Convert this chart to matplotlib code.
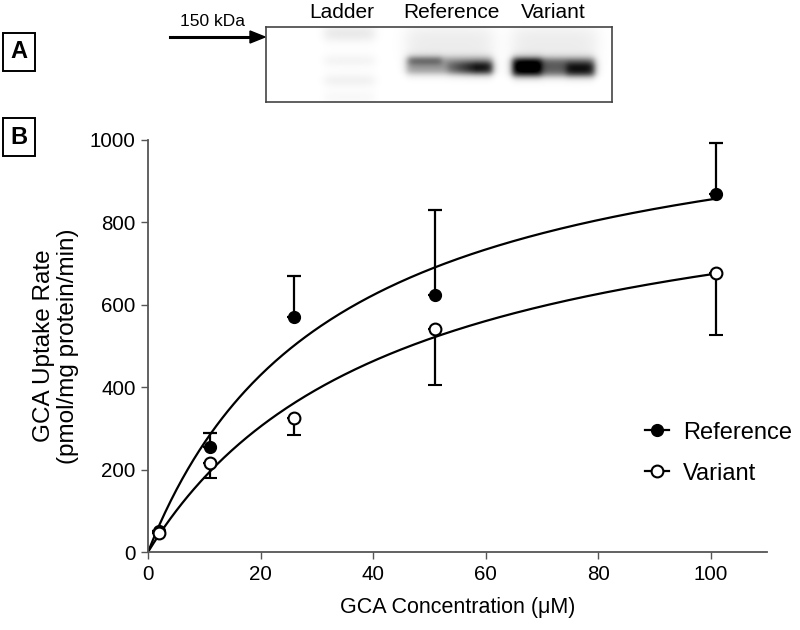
import numpy as np
import matplotlib.pyplot as plt
from matplotlib.lines import Line2D

plt.rcParams['font.family'] = ['Liberation Sans', 'DejaVu Sans']

# uptake data (GCA concentration in uM, rate in pmol/mg protein/min)
conc = [2, 11, 26, 51, 101]
ref_rate = [52, 255, 570, 625, 870]
ref_err = [0, 34, 100, 206, 123]
var_rate = [45, 215, 326, 541, 676]
var_err = [0, 36, 41, 135, 150]

# Michaelis-Menten fit parameters (Vmax, Km)
ref_fit = (1138, 33.0)
var_fit = (967, 43.5)

lane_labels = ['Ladder', 'Reference', 'Variant']

fig = plt.figure(figsize=(8, 6.3), dpi=100, facecolor='w')

# ---- panel A: blot ----
axA = fig.add_axes([266/800, 1-102/630, 346/800, 75/630])
W, H = 346, 75
xx, yy = np.meshgrid(np.arange(W), np.arange(H))

def band(x0, x1, y0, y1, s=2.5):
    fx = 1/(1+np.exp(-(xx-x0)/s)) * 1/(1+np.exp((xx-x1)/s))
    fy = 1/(1+np.exp(-(yy-y0)/s)) * 1/(1+np.exp((yy-y1)/s))
    return fx*fy

img = np.zeros((H, W))
# ladder bands
for yc, a in [(3, 0.10), (9, 0.09), (33, 0.08), (53, 0.10), (70, 0.05)]:
    img += a*band(58, 108, yc-3, yc+3, 3)
# reference lane
img += 0.08*band(140, 226, 0, 32, 5)
img += 0.40*band(140, 226, 30, 46, 2.2)
img += 0.6*band(180, 226, 35, 46, 2)*np.clip((xx-170)/40, 0, 1)
img += 0.30*band(142, 175, 30, 36, 1.8)
# variant lane
img += 0.08*band(246, 330, 0, 32, 5)
img += 0.65*band(246, 328, 31, 48, 2.2)
img += 0.5*band(246, 275, 31, 48, 2)
img += 0.35*band(300, 328, 36, 48, 2)
img = np.clip(img, 0, 1)
axA.imshow(img, cmap='gray_r', vmin=0, vmax=1, aspect='auto',
           extent=(0, W, H, 0), interpolation='bilinear')
axA.set_xlim(0, W)
axA.set_ylim(H, 0)
axA.set_xticks([])
axA.set_yticks([])
for sp in axA.spines.values():
    sp.set_color('#444444')
    sp.set_linewidth(1.2)

for lab, xc in zip(lane_labels, [342, 451, 553]):
    fig.text(xc/800, 1-12/630, lab, ha='center', va='center', fontsize=15)
fig.text(212/800, 1-22/630, '150 kDa', ha='center', va='center', fontsize=12.5)
fig.add_artist(Line2D([170/800, 252/800], [1-37/630, 1-37/630],
                      color='black', lw=2.2))
fig.patches.append(plt.Polygon([[250/800, 1-31/630], [265/800, 1-37/630],
                                [250/800, 1-43/630]], closed=True,
                               color='black', transform=fig.transFigure))

for lab, yc in [('A', 52), ('B', 137)]:
    fig.text(19/800, 1-yc/630, lab, ha='center', va='center', fontsize=17,
             fontweight='bold',
             bbox=dict(boxstyle='square,pad=0.3', fc='w', ec='black', lw=1.4))

# ---- panel B: kinetics ----
ax = fig.add_axes([148/800, 78/630, 619/800, 412/630])
xs = np.linspace(0, conc[-1], 300)
for (vmax, km) in [ref_fit, var_fit]:
    ax.plot(xs, vmax*xs/(km+xs), color='black', lw=1.6, zorder=2)

ax.errorbar(conc, ref_rate, yerr=[np.zeros(len(ref_err)), ref_err],
            fmt='o', color='black', mfc='black', mec='black', ms=8.5,
            ecolor='black', elinewidth=1.6, capsize=5, capthick=1.6,
            zorder=3)
ax.errorbar(conc, var_rate, yerr=[var_err, np.zeros(len(var_err))],
            fmt='o', color='black', mfc='white', mec='black', mew=1.5, ms=8.5,
            ecolor='black', elinewidth=1.6, capsize=5, capthick=1.6,
            zorder=3)

ax.set_xlim(0, 110)
ax.set_ylim(0, 1000)
ax.set_xticks([0, 20, 40, 60, 80, 100])
ax.set_yticks([0, 200, 400, 600, 800, 1000])
ax.tick_params(labelsize=14.8, length=5, width=1, color='#555555', pad=4)
for sp in ('top', 'right'):
    ax.spines[sp].set_visible(False)
for sp in ('left', 'bottom'):
    ax.spines[sp].set_color('#555555')
    ax.spines[sp].set_linewidth(1.3)

ax.set_xlabel('GCA Concentration (\u03bcM)', fontsize=15.5, labelpad=10)
ax.set_ylabel('GCA Uptake Rate\n(pmol/mg protein/min)', fontsize=17.5,
              labelpad=8, linespacing=1.1)

handles = [Line2D([], [], color='black', lw=1.6, marker='o', ms=8.5,
                  mfc='black', mec='black'),
           Line2D([], [], color='black', lw=1.6, marker='o', ms=8.5,
                  mfc='white', mec='black', mew=1.5)]
ax.legend(handles, ['Reference', 'Variant'], loc='center left',
          bbox_to_anchor=(0.803, 0.24), frameon=False, fontsize=17,
          handlelength=1.0, handletextpad=0.6, labelspacing=0.8,
          borderpad=0, borderaxespad=0)

plt.savefig('out.png', dpi=100)
